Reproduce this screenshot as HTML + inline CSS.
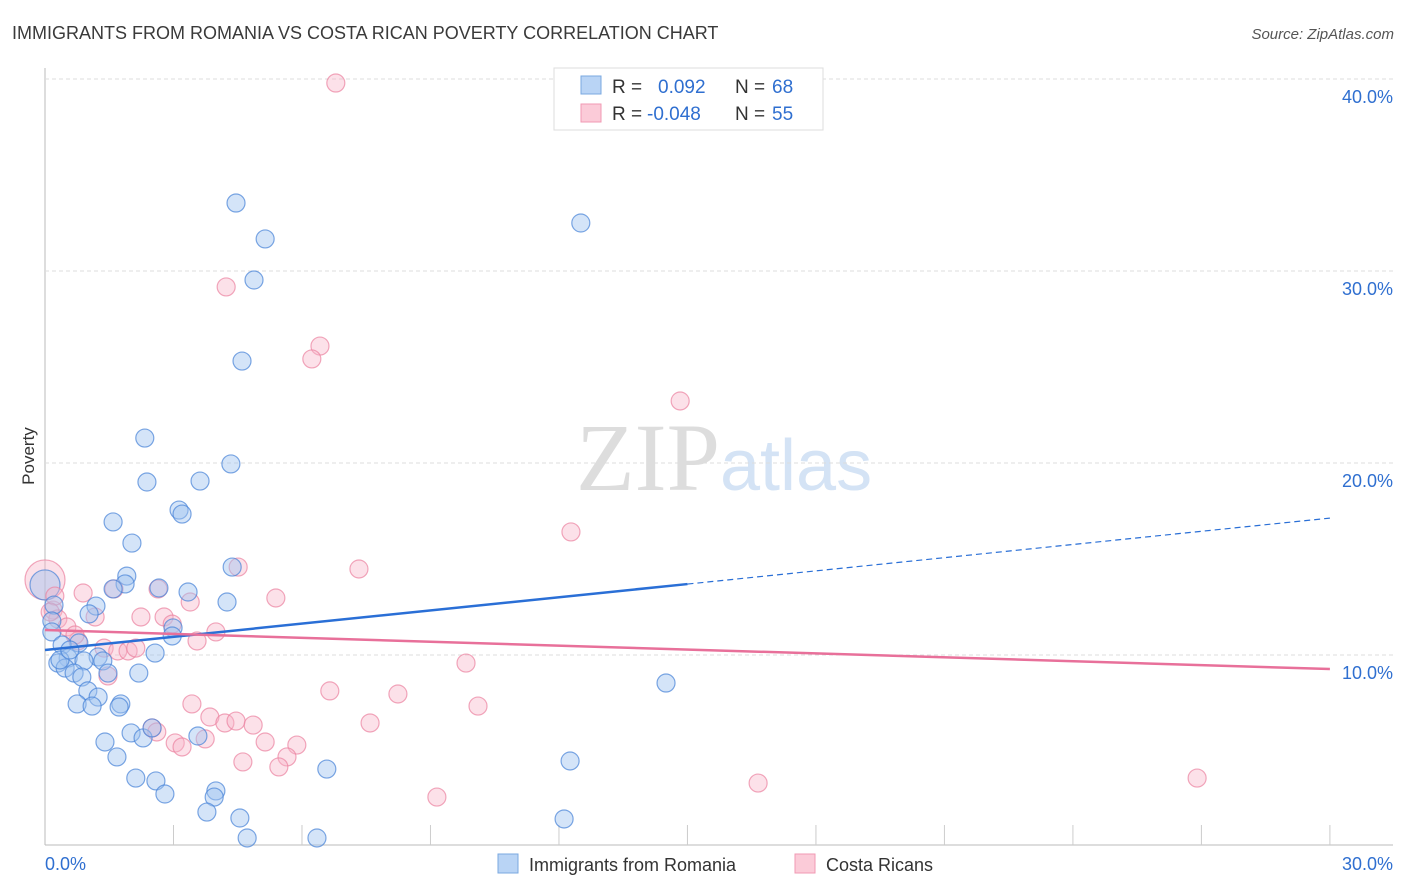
<!DOCTYPE html>
<html><head><meta charset="utf-8"><style>
body{margin:0;background:#fff;font-family:"Liberation Sans",sans-serif;}
svg{display:block}
</style></head><body>
<svg width="1406" height="892" id="c">
<text x="12" y="39" font-size="18" fill="#3a3a3a">IMMIGRANTS FROM ROMANIA VS COSTA RICAN POVERTY CORRELATION CHART</text>
<text x="1394" y="39" font-size="15" font-style="italic" fill="#555" text-anchor="end">Source: ZipAtlas.com</text>
<text x="34" y="456" font-size="17" fill="#333" transform="rotate(-90 34 456)" text-anchor="middle">Poverty</text>
<text x="720" y="490" font-size="96" fill="#ddd" text-anchor="end" font-family="Liberation Serif">ZIP</text>
<text x="720" y="490" font-size="72" fill="#d4e3f5">atlas</text>
<g id="grid"></g><g id="pts"></g><g id="lines"></g>
<g>
<rect x="554" y="68" width="269" height="62" fill="#fff" stroke="#ddd"/>
<rect x="581" y="76" width="20" height="18" fill="#b9d4f5" stroke="#7aa8e0"/>
<rect x="581" y="104" width="20" height="18" fill="#fbcbd8" stroke="#f09ab3"/>
<text x="612" y="93" font-size="19" fill="#333">R =</text><text x="658" y="93" font-size="19" fill="#2f6fd0">0.092</text>
<text x="735" y="93" font-size="19" fill="#333">N =</text><text x="772" y="93" font-size="19" fill="#2f6fd0">68</text>
<text x="612" y="120" font-size="19" fill="#333">R =</text><text x="647" y="120" font-size="19" fill="#2f6fd0">-0.048</text>
<text x="735" y="120" font-size="19" fill="#333">N =</text><text x="772" y="120" font-size="19" fill="#2f6fd0">55</text>
</g>
<g>
<rect x="498" y="854" width="20" height="19" fill="#b9d4f5" stroke="#7aa8e0"/>
<text x="529" y="871" font-size="18" fill="#333">Immigrants from Romania</text>
<rect x="795" y="854" width="20" height="19" fill="#fbcbd8" stroke="#f09ab3"/>
<text x="826" y="871" font-size="18" fill="#333">Costa Ricans</text>
</g>
</svg>
<script>
const xTicks=[0,30];
const yTicks=[10,20,30,40];
const blueX=[4.46,5.14,12.51,4.88,4.6,2.33,4.34,2.38,3.62,3.13,3.2,1.59,2.03,4.37,1.91,1.87,1.59,2.66,3.34,1.19,1.03,4.25,0.21,0.16,2.99,0.16,2.97,0.79,0.4,2.57,0.54,1.24,1.35,0.3,0.91,0.47,0.68,2.19,0.86,1.47,1.0,1.24,0.75,1.1,1.77,1.73,14.5,1.4,2.01,2.29,2.5,3.57,1.68,6.58,12.26,2.12,2.59,2.8,3.99,3.95,3.78,4.55,12.12,4.72,6.35,0.35,0.58];
const blueY=[33.54,31.67,32.5,29.53,25.31,21.3,19.95,19.01,19.06,17.55,17.34,16.93,15.83,14.58,14.11,13.7,13.44,13.49,13.28,12.55,12.14,12.76,12.6,11.77,11.41,11.2,10.99,10.63,10.52,10.1,9.84,9.9,9.69,9.58,9.69,9.32,9.06,9.06,8.85,9.06,8.13,7.81,7.45,7.34,7.45,7.29,8.54,5.47,5.94,5.68,6.2,5.78,4.69,4.06,4.48,3.59,3.44,2.76,2.92,2.6,1.82,1.51,1.46,0.47,0.47,9.74,10.26];
const pinkX=[6.79,4.23,6.42,6.23,14.83,12.28,4.51,7.33,5.39,3.39,0.89,2.64,1.61,0.19,0.3,0.51,1.17,2.24,2.78,2.97,3.99,0.77,1.38,1.7,1.94,2.12,3.55,9.83,1.47,6.65,8.24,3.43,10.11,3.85,4.2,4.46,4.86,2.5,2.61,3.04,3.2,3.74,5.14,5.88,7.59,5.65,5.46,4.62,9.15,16.65,26.9,0.23,0.7,0.12];
const pinkY=[39.79,29.17,26.09,25.42,23.23,16.41,14.58,14.48,12.97,12.76,13.23,13.44,13.44,12.34,11.88,11.46,11.98,11.98,11.98,11.61,11.2,10.73,10.36,10.21,10.21,10.36,10.73,9.58,8.91,8.13,7.97,7.45,7.34,6.77,6.46,6.56,6.35,6.2,5.99,5.42,5.21,5.63,5.47,5.31,6.46,4.69,4.17,4.43,2.6,3.33,3.59,13.07,11.04,12.24];
const bigBlue=[[0,13.65]];
const bigPink=[[0,13.91]];
const blueTrend=[10.26,0.229];
const pinkTrend=[11.3,-0.0677];
const X=v=>45+v*42.83, Y=v=>847-v*19.2;
const NS='http://www.w3.org/2000/svg';
function mk(tag,at,parent){const e=document.createElementNS(NS,tag);for(const k in at)e.setAttribute(k,at[k]);parent.appendChild(e);return e;}
const svg=document.getElementById('c'),grid=document.getElementById('grid'),pts=document.getElementById('pts'),lines=document.getElementById('lines');
let a=mk('line',{x1:45,y1:68,x2:45,y2:845,stroke:'#bbb'},grid);


a=mk('line',{x1:45,y1:845,x2:1393,y2:845,stroke:'#bbb'},grid);


for(let i=1;i<=10;i++){const t=mk('line',{x1:X(i*3),x2:X(i*3),y1:825,y2:845,stroke:'#ccc'},grid);

}
yTicks.forEach(v=>{const g=mk('line',{x1:45,x2:1393,y1:Y(v),y2:Y(v),stroke:'#ddd','stroke-dasharray':'4 3'},grid);


const t=mk('text',{x:1393,y:Y(v)+24,'font-size':18,fill:'#2f6fd0','text-anchor':'end'},grid);t.textContent=v.toFixed(1)+'%';

});
xTicks.forEach((v,i)=>{const t=mk('text',{x:i?1393:45,y:870,'font-size':18,fill:'#2f6fd0','text-anchor':i?'end':'start'},grid);t.textContent=v.toFixed(1)+'%';

});
function dot(x,y,r,blue){const c=mk('circle',{cx:X(x),cy:Y(y),r:r,fill:blue?'rgba(160,196,240,0.45)':'rgba(248,180,200,0.4)',stroke:blue?'rgba(70,130,215,0.7)':'rgba(235,130,160,0.7)','stroke-width':1.2},pts);

}
bigPink.forEach(p=>dot(p[0],p[1],20,false));
bigBlue.forEach(p=>dot(p[0],p[1],15,true));
pinkX.forEach((x,i)=>dot(x,pinkY[i],9,false));
blueX.forEach((x,i)=>dot(x,blueY[i],9,true));
const bt=x=>blueTrend[0]+blueTrend[1]*x, pt=x=>pinkTrend[0]+pinkTrend[1]*x;
let l=mk('line',{x1:X(0),y1:Y(bt(0)),x2:X(15),y2:Y(bt(15)),stroke:'#2a6fd6','stroke-width':2.5},lines);


l=mk('line',{x1:X(15),y1:Y(bt(15)),x2:X(30),y2:Y(bt(30)),stroke:'#2a6fd6','stroke-width':1.2,'stroke-dasharray':'6 4'},lines);


l=mk('line',{x1:X(0),y1:Y(pt(0)),x2:X(30),y2:Y(pt(30)),stroke:'#e8709a','stroke-width':2.5},lines);


</script>
</body></html>
